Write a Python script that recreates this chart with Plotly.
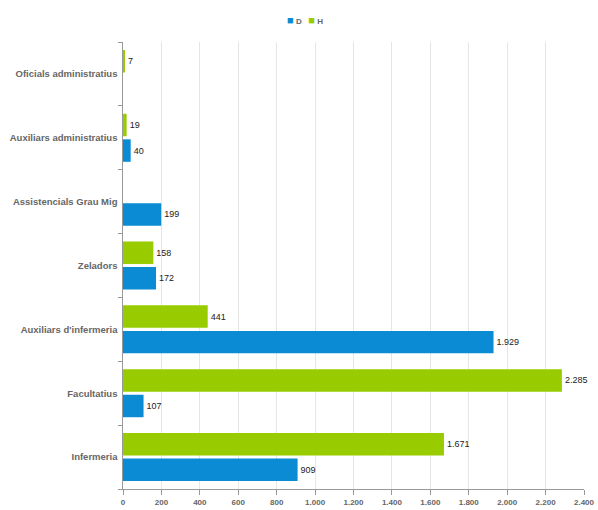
import plotly.graph_objects as go

categories = ["Infermeria", "Facultatius", "Auxiliars d'infermeria", "Zeladors",
              "Assistencials Grau Mig", "Auxiliars administratius", "Oficials administratius"]
values_d = [909, 107, 1929, 172, 199, 40, None]
values_h = [1671, 2285, 441, 158, None, 19, 7]
series_names = ["D", "H"]
x_ticks = list(range(0, 2401, 200))

blue = "#0a8bd3"
green = "#99cc00"
fam = "Liberation Sans, Arial"


def fmt(v):
    return f"{v:,}".replace(",", ".") if v is not None else ""


fig = go.Figure()
for name, vals, col in zip(series_names, [values_d, values_h], [blue, green]):
    fig.add_trace(go.Bar(name=name, y=categories, x=vals, orientation="h",
                         marker=dict(color=col, line=dict(width=0)),
                         text=[fmt(v) for v in vals],
                         textposition="outside", cliponaxis=False,
                         textfont=dict(family=fam, size=9, color="#222222")))

legend_text = "&nbsp;&nbsp;&nbsp;".join(
    f"<span style='color:{c};font-size:11px'>■</span> <b>{n}</b>"
    for n, c in zip(series_names, [blue, green]))
fig.add_annotation(text=legend_text, xref="paper", yref="paper", x=0.395, y=1.049,
                   xanchor="center", yanchor="middle", showarrow=False,
                   font=dict(family=fam, size=8, color="#666666"))

fig.update_layout(
    width=598, height=510,
    margin=dict(l=123, r=14, t=42, b=21, autoexpand=False),
    barmode="group", bargap=0.2, bargroupgap=0.12,
    paper_bgcolor="white", plot_bgcolor="white",
    separators=",.",
    font=dict(family=fam, color="#666666"),
    showlegend=False,
    xaxis=dict(range=[0, 2400], tickvals=x_ticks, tickformat=",d",
               showgrid=True, gridcolor="#e6e6e6", gridwidth=1,
               showline=True, linecolor="#999999", linewidth=1,
               ticks="outside", ticklen=5, tickcolor="#999999",
               tickfont=dict(size=8, color="#666666", family=fam, weight="bold"),
               zeroline=False, automargin=False),
    yaxis=dict(type="category", categoryorder="array", categoryarray=categories,
               showline=True, linecolor="#999999", linewidth=1,
               ticks="outside", ticklen=4, tickcolor="#999999", tickson="boundaries",
               showgrid=False, automargin=False,
               tickfont=dict(size=9.5, color="#666666", family=fam, weight="bold"),
               ticksuffix=" "),
)

fig.write_html("out.html", config={"displayModeBar": False},
               post_script="document.body.style.margin='0px';")
